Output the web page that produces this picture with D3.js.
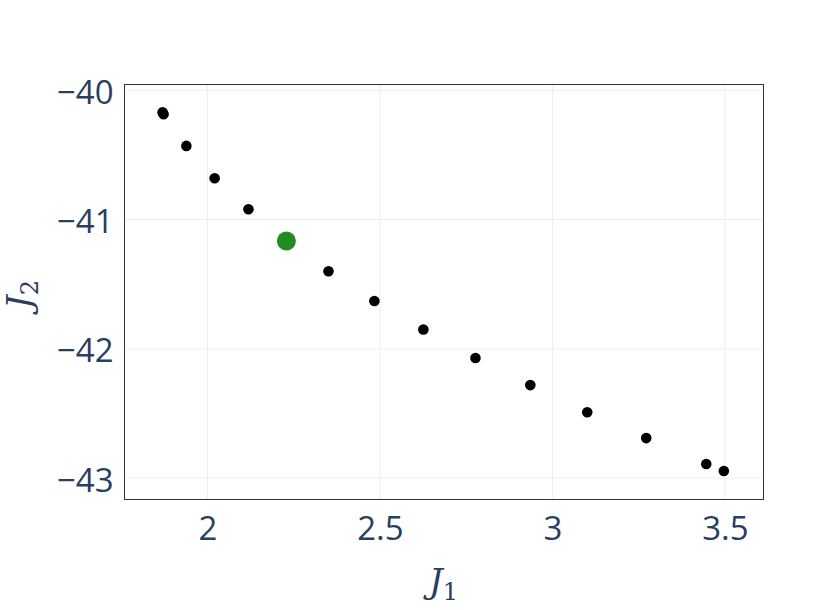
<!DOCTYPE html>
<html><head><meta charset="utf-8">
<script src="https://cdn.jsdelivr.net/npm/d3@7"></script>
<style>body{margin:0;background:#fff}</style>
</head><body>
<svg id="c" width="831" height="610"></svg>
<script>
const j1 = [1.870, 1.873, 1.939, 2.021, 2.119, 2.351, 2.484, 2.626, 2.777, 2.936, 3.101, 3.272, 3.446, 3.497];
const j2 = [-40.17, -40.185, -40.43, -40.68, -40.92, -41.40, -41.63, -41.85, -42.07, -42.28, -42.49, -42.69, -42.89, -42.945];
const highlightJ1 = [2.229];
const highlightJ2 = [-41.165];
const xTicks = [2, 2.5, 3, 3.5];
const yTicks = [-40, -41, -42, -43];

const svg = d3.select("#c");
const L = 124.5, R = 763.5, T = 84.5, B = 499.5;
const x = d3.scaleLinear().domain([1.7597, 3.6119]).range([L, R]);
const y = d3.scaleLinear().domain([-39.955, -43.165]).range([T, B]);
const tickColor = "#2a3f5f";
const fmt = d => d < 0 ? "\u2212" + Math.abs(d) : String(d);

// grid
svg.append("g").selectAll("line").data(xTicks).join("line")
  .attr("x1", d => x(d)).attr("x2", d => x(d)).attr("y1", T).attr("y2", B)
  .attr("stroke", "#eeeeee").attr("stroke-width", 1);
svg.append("g").selectAll("line").data(yTicks).join("line")
  .attr("y1", d => y(d)).attr("y2", d => y(d)).attr("x1", L).attr("x2", R)
  .attr("stroke", "#eeeeee").attr("stroke-width", 1);

// x axis
const xa = svg.append("g").attr("transform", `translate(0,${B})`)
  .call(d3.axisBottom(x).tickValues(xTicks).tickSize(0).tickPadding(17).tickFormat(fmt));
xa.select(".domain").remove();
xa.selectAll("text").attr("font-family", "'Open Sans', sans-serif").attr("font-size", 33).attr("fill", tickColor);

// y axis
const ya = svg.append("g").attr("transform", `translate(${L},0)`)
  .call(d3.axisLeft(y).tickValues(yTicks).tickSize(0).tickPadding(11).tickFormat(fmt));
ya.select(".domain").remove();
ya.selectAll("text").attr("font-family", "'Open Sans', sans-serif").attr("font-size", 33).attr("fill", tickColor).attr("dy", "0.39em");

// frame
svg.append("rect").attr("x", L).attr("y", T).attr("width", R - L).attr("height", B - T)
  .attr("fill", "none").attr("stroke", "#333").attr("stroke-width", 1);

// points
svg.append("g").selectAll("circle").data(j1.map((v, i) => [v, j2[i]])).join("circle")
  .attr("cx", d => x(d[0])).attr("cy", d => y(d[1])).attr("r", 5.3).attr("fill", "#000");
svg.append("g").selectAll("circle").data(highlightJ1.map((v, i) => [v, highlightJ2[i]])).join("circle")
  .attr("cx", d => x(d[0])).attr("cy", d => y(d[1])).attr("r", 9.5).attr("fill", "#228b22");

// axis titles
const xt = svg.append("text").attr("x", 429).attr("y", 593)
  .attr("font-family", "'DejaVu Serif', serif").attr("font-style", "italic")
  .attr("font-size", 34).attr("fill", tickColor);
xt.append("tspan").text("J");
xt.append("tspan").attr("font-style", "normal").attr("font-size", 24).attr("dy", 7).text("1");

const yt = svg.append("text").attr("transform", "translate(31,309) rotate(-90)")
  .attr("font-family", "'DejaVu Serif', serif").attr("font-style", "italic")
  .attr("font-size", 34).attr("fill", tickColor);
yt.append("tspan").text("J");
yt.append("tspan").attr("font-style", "normal").attr("font-size", 24).attr("dy", 7).text("2");
</script>
</body></html>
